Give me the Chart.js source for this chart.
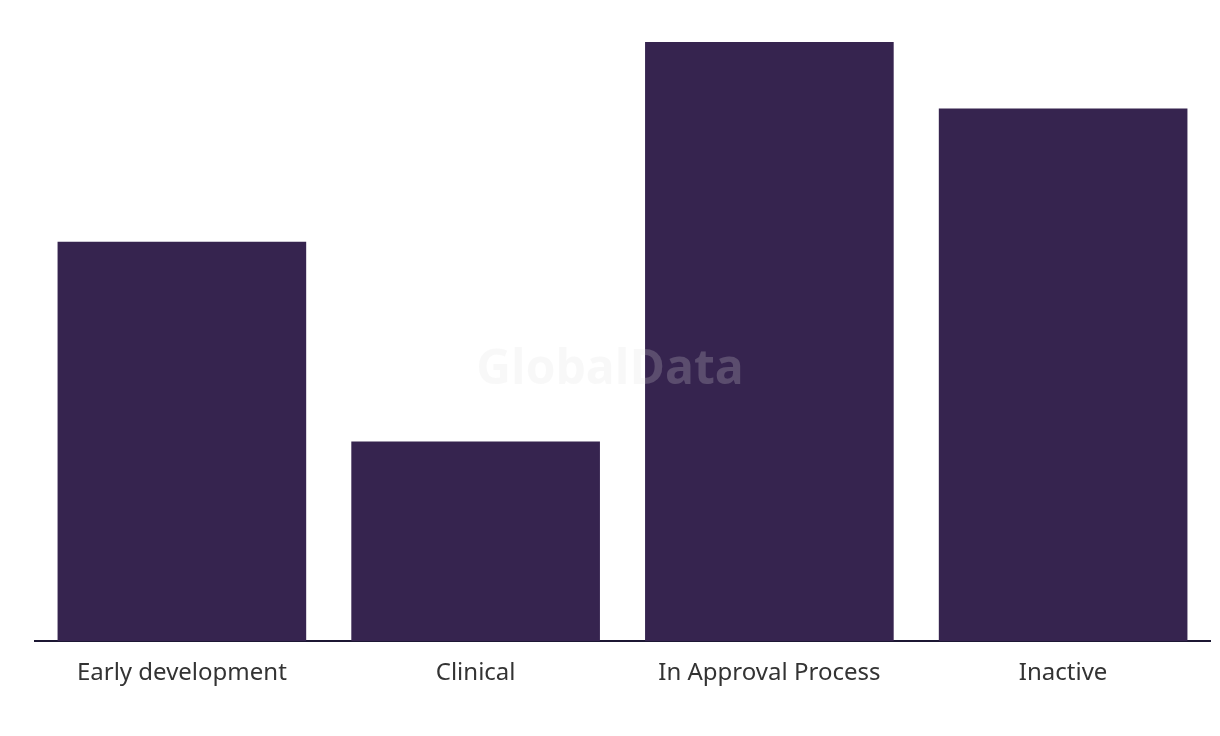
<!DOCTYPE html>
<html>
<head>
<meta charset="utf-8">
<script src="https://cdn.jsdelivr.net/npm/chart.js@4/dist/chart.umd.min.js"></script>
<style>
  html, body { margin: 0; padding: 0; background: #fff; }
  #wrap { width: 1220px; height: 736px; position: relative; }
</style>
</head>
<body>
<div id="wrap"><canvas id="chart"></canvas></div>
<script>
const categories = ["Early development", "Clinical", "In Approval Process", "Inactive"];
const counts = [6, 3, 9, 8];
const yMax = 9;

// watermark drawn on top of the bars
const watermark = {
  id: "watermark",
  afterDatasetsDraw(chart) {
    const { ctx } = chart;
    ctx.save();
    ctx.font = "bold 48px 'Open Sans', Roboto, sans-serif";
    ctx.fillStyle = "rgba(225, 225, 225, 0.22)";
    ctx.textAlign = "center";
    ctx.textBaseline = "middle";
    ctx.fillText("GlobalData", 610, 370);
    ctx.restore();
  }
};

new Chart(document.getElementById("chart"), {
  type: "bar",
  data: {
    labels: categories,
    datasets: [{
      data: counts,
      backgroundColor: "#36244f",
      borderWidth: 0,
      barPercentage: 0.92,
      categoryPercentage: 0.92
    }]
  },
  options: {
    responsive: true,
    maintainAspectRatio: false,
    animation: false,
    layout: { padding: { left: 35, right: 10, top: 42, bottom: 30 } },
    plugins: { legend: { display: false }, tooltip: { enabled: false } },
    scales: {
      x: {
        grid: { display: false, drawTicks: false },
        border: { display: true, color: "#1c1733", width: 2 },
        ticks: {
          color: "#333333",
          padding: 18,
          font: { family: "'Noto Sans', 'Open Sans', sans-serif", size: 24 }
        }
      },
      y: {
        display: false,
        min: 0,
        max: yMax
      }
    }
  },
  plugins: [watermark]
});
</script>
</body>
</html>
